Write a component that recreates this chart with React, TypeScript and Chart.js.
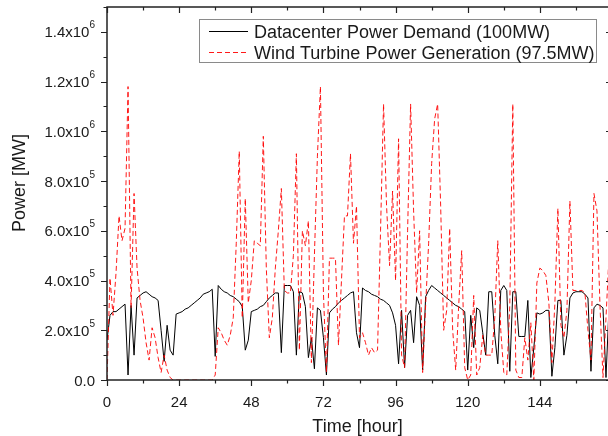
import React, { useEffect, useRef } from "react";
import { Chart, registerables } from "chart.js";

Chart.register(...registerables);

// hours 0..167
const HOURS: number[] = Array.from({ length: 168 }, (_, i) => i);

// Datacenter power demand, in units of 1e5 MW
const DEMAND: number[] = [
  1.6, 2.6, 2.75, 2.75, 2.85, 2.95, 3.05, 0.2, 3.0, 1.0,
  3.3, 3.4, 3.5, 3.55, 3.45, 3.35, 3.3, 3.2, 2.0, 0.75,
  2.2, 1.2, 1.0, 2.65, 2.7, 2.75, 2.85, 2.9, 3.0, 3.1,
  3.2, 3.3, 3.45, 3.5, 3.55, 3.65, 0.95, 3.8, 3.65, 3.55,
  3.5, 3.4, 3.35, 3.25, 3.15, 2.95, 1.2, 1.6, 2.75, 2.8,
  2.85, 2.95, 3.0, 3.15, 3.3, 3.4, 3.5, 3.5, 1.1, 3.8,
  3.8, 3.8, 3.55, 1.0, 3.55, 3.5, 2.95, 0.9, 1.7, 0.45,
  2.9, 2.8, 1.7, 0.2, 2.7, 2.85, 2.95, 3.1, 3.2, 3.3,
  3.4, 3.5, 3.55, 1.9, 1.3, 3.7, 3.6, 3.55, 3.45, 3.4,
  3.35, 3.25, 3.2, 3.1, 3.0, 2.7, 2.2, 0.65, 2.8, 0.5,
  2.6, 2.8, 1.5, 3.35, 3.0, 0.4, 3.35, 3.6, 3.8, 3.7,
  3.6, 3.5, 3.4, 3.3, 3.2, 3.1, 3.0, 2.95, 2.85, 2.75,
  0.4, 2.6, 1.3, 2.9, 2.8, 1.9, 1.0, 3.55, 3.55, 1.8,
  0.65, 3.6, 3.8, 3.6, 0.35, 3.55, 3.55, 1.75, 1.75, 1.75,
  3.2, 0.1, 1.3, 2.7, 2.65, 2.7, 2.8, 2.8, 0.15, 1.3,
  3.2, 3.2, 1.0, 1.8, 3.3, 3.5, 3.55, 3.55, 3.55, 3.45,
  3.3, 0.35, 2.9, 3.05, 3.0, 2.9, 0.1, 2.9,
];

// Wind turbine power generation, in units of 1e5 MW
const WIND: number[] = [
  0, 4.1, 2.6, 4.3, 6.6, 5.6, 6.1, 11.8, 2.9, 7.5,
  4.5, 3.2, 2.5, 1.5, 0.8, 2.1, 1.7, 0.9, 0.3, 1.0,
  0.4, 0.1, 0, 0, 0, 0, 0, 0, 0, 0,
  0, 0, 0, 0, 0, 0, 0.2, 2.1, 1.9, 1.6,
  1.4, 1.8, 2.5, 5.5, 9.2, 2.5, 7.3, 3.1, 4.0, 5.6,
  5.5, 5.4, 9.8, 4.5, 1.7, 2.5, 4.5, 6.0, 7.7, 3.6,
  3.5, 3.5, 5.0, 9.1, 1.2, 6.0, 5.4, 6.4, 0.7, 5.0,
  9.0, 11.8, 3.5, 0.3, 4.9, 4.9, 4.9, 1.4, 4.0, 6.6,
  6.6, 9.1, 5.5, 7.0, 1.7, 1.9, 1.5, 1.0, 1.3, 1.1,
  1.2, 6.0, 11.1, 7.0, 4.6, 7.6, 4.0, 9.7, 1.0, 0.5,
  6.0, 11.1, 6.8, 3.5, 6.0, 0.3, 3.0, 5.5, 8.7, 10.5,
  11.1, 7.0, 2.0, 2.8, 6.1, 2.0, 0.4, 3.0, 5.2, 0.5,
  0, 0.2, 3.4, 0.2, 0.5, 1.8, 1.0, 1.0, 1.0, 2.5,
  5.6, 2.0, 0.3, 0.2, 3.0, 11.1, 0.4, 0.1, 0.1, 1.7,
  0.8, 2.3, 0, 3.9, 4.5, 4.4, 4.2, 3.1, 0.7, 3.1,
  6.9, 2.2, 1.7, 2.8, 7.2, 3.6, 3.6, 3.6, 3.6, 3.5,
  2.0, 0.8, 7.5, 6.8, 3.0, 0.1, 2.5, 5.0,
];

const UNIT = 1e5;
const SERIES_NAMES = [
  "Datacenter Power Demand (100MW)",
  "Wind Turbine Power Generation (97.5MW)",
];
const X_TICKS = [0, 24, 48, 72, 96, 120, 144];
const Y_TICKS = [0, 2e5, 4e5, 6e5, 8e5, 1e6, 1.2e6, 1.4e6];
const Y_TICK_MAIN = ["0.0", "2.0x10", "4.0x10", "6.0x10", "8.0x10", "1.0x10", "1.2x10", "1.4x10"];
const Y_TICK_SUP = ["", "5", "5", "5", "5", "6", "6", "6"];
const X_TITLE = "Time [hour]";
const Y_TITLE = "Power [MW]";

const FONT = '"Liberation Sans", Arial, sans-serif';
const TEXT = "#1a1a1a";
const RED = "rgba(255,0,0,0.9)";
const RED_DASH = [5, 3];

const decorPlugin = {
  id: "decor",
  afterDraw(chart: any) {
    const ctx = chart.ctx as CanvasRenderingContext2D;
    const { left, right, top, bottom } = chart.chartArea;
    const xs = chart.scales.x;
    const ys = chart.scales.y;
    ctx.save();

    // frame
    ctx.strokeStyle = "#222";
    ctx.lineWidth = 1.5;
    ctx.strokeRect(left, top, right - left, bottom - top);

    // ticks
    ctx.lineWidth = 1.2;
    ctx.beginPath();
    for (let h = 0; h <= 168; h += 12) {
      const px = Math.round(xs.getPixelForValue(h)) + 0.5;
      const len = h % 24 === 0 ? 6 : 3.5;
      ctx.moveTo(px, bottom);
      ctx.lineTo(px, bottom + len);
      ctx.moveTo(px, top);
      ctx.lineTo(px, top + len);
    }
    for (let k = 0; k <= 15; k++) {
      const py = Math.round(ys.getPixelForValue(k * UNIT)) + 0.5;
      const len = k % 2 === 0 ? 6 : 3.5;
      ctx.moveTo(left - len, py);
      ctx.lineTo(left, py);
      ctx.moveTo(right, py);
      ctx.lineTo(right - len, py);
    }
    ctx.stroke();

    // x tick labels
    ctx.fillStyle = TEXT;
    ctx.font = `15px ${FONT}`;
    ctx.textAlign = "center";
    ctx.textBaseline = "alphabetic";
    X_TICKS.forEach((t) => {
      ctx.fillText(String(t), xs.getPixelForValue(t), 406.5);
    });

    // y tick labels with superscripts
    const rightEdge = 95;
    Y_TICKS.forEach((v, i) => {
      const py = ys.getPixelForValue(v);
      const sup = Y_TICK_SUP[i];
      ctx.textAlign = "right";
      let mainRight = rightEdge;
      if (sup) {
        ctx.font = `10px ${FONT}`;
        const w = ctx.measureText(sup).width;
        ctx.fillText(sup, rightEdge, py - 3.5);
        mainRight = rightEdge - w;
      }
      ctx.font = `15px ${FONT}`;
      ctx.fillText(Y_TICK_MAIN[i], mainRight, py + 5.5);
    });

    // axis titles
    ctx.font = `18px ${FONT}`;
    ctx.textAlign = "center";
    ctx.fillText(X_TITLE, 357.5, 431.5);
    ctx.save();
    ctx.translate(25, 183);
    ctx.rotate(-Math.PI / 2);
    ctx.fillText(Y_TITLE, 0, 0);
    ctx.restore();

    // legend
    const bx = 199.5, by = 19.5, bw = 397, bh = 43;
    ctx.fillStyle = "#fff";
    ctx.fillRect(bx, by, bw, bh);
    ctx.strokeStyle = "#8a8a8a";
    ctx.lineWidth = 1;
    ctx.strokeRect(bx, by, bw, bh);

    const rows = [31.5, 52.5];
    const styles = [
      { color: "#000", width: 1, dash: [] as number[] },
      { color: RED, width: 1, dash: RED_DASH },
    ];
    rows.forEach((ry, i) => {
      ctx.beginPath();
      ctx.strokeStyle = styles[i].color;
      ctx.lineWidth = styles[i].width;
      ctx.setLineDash(styles[i].dash);
      ctx.moveTo(209, ry);
      ctx.lineTo(248, ry);
      ctx.stroke();
      ctx.setLineDash([]);
      ctx.fillStyle = TEXT;
      ctx.font = `18px ${FONT}`;
      ctx.textAlign = "left";
      ctx.fillText(SERIES_NAMES[i], 254, ry + 6.5);
    });

    ctx.restore();
  },
};

export default function App() {
  const ref = useRef<HTMLCanvasElement | null>(null);

  useEffect(() => {
    if (!ref.current) return;
    const demandPts = HOURS.map((h, i) => ({ x: h, y: DEMAND[i] * UNIT }));
    const windPts = HOURS.map((h, i) => ({ x: h, y: WIND[i] * UNIT }));
    const chart = new Chart(ref.current, {
      type: "line",
      data: {
        datasets: [
          {
            label: SERIES_NAMES[0],
            data: demandPts,
            borderColor: "#000",
            borderWidth: 1,
            pointRadius: 0,
            tension: 0,
            fill: false,
            order: 2,
          },
          {
            label: SERIES_NAMES[1],
            data: windPts,
            borderColor: RED,
            borderWidth: 1,
            borderDash: RED_DASH,
            pointRadius: 0,
            tension: 0,
            fill: false,
            order: 1,
          },
        ],
      },
      options: {
        responsive: false,
        maintainAspectRatio: false,
        devicePixelRatio: 1,
        animation: false,
        layout: { padding: { left: 107, right: 8, top: 7, bottom: 56 } },
        plugins: {
          legend: { display: false },
          tooltip: { enabled: false },
        },
        scales: {
          x: { type: "linear", min: 0, max: 168, display: false },
          y: { type: "linear", min: 0, max: 1.5e6, display: false },
        },
      },
      plugins: [decorPlugin],
    });
    return () => chart.destroy();
  }, []);

  return (
    <div
      style={{
        position: "fixed",
        left: 0,
        top: 0,
        width: 608,
        height: 436,
        overflow: "hidden",
        background: "#fff",
      }}
    >
      <canvas ref={ref} width={620} height={436} style={{ display: "block" }} />
    </div>
  );
}
